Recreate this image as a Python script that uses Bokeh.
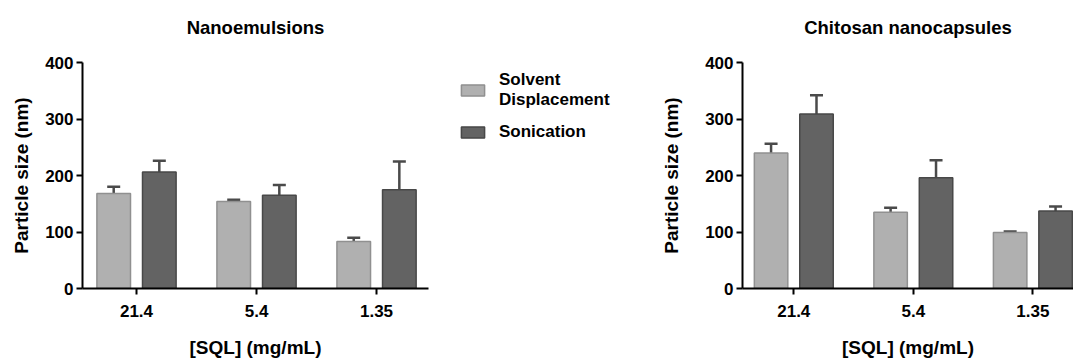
from bokeh.plotting import figure
from bokeh.layouts import row
from bokeh.models import (Range1d, FixedTicker, Whisker, TeeHead, ColumnDataSource,
                          Legend, LegendItem, Title)
from bokeh.embed import file_html
from bokeh.resources import INLINE

# SQL concentration groups (x axis)
concentrations = ["21.4", "5.4", "1.35"]

# Nanoemulsions: mean particle size and SD (nm)
ne_solvent = [168, 154, 83]
ne_solvent_sd = [12, 3, 7]
ne_sonication = [206, 165, 175]
ne_sonication_sd = [20, 18, 50]

# Chitosan nanocapsules: mean particle size and SD (nm)
cn_solvent = [240, 135, 99]
cn_solvent_sd = [16, 8, 2]
cn_sonication = [309, 196, 137]
cn_sonication_sd = [33, 31, 8]

y_ticks = [0, 100, 200, 300, 400]
series_labels = ["Solvent\nDisplacement", "Sonication"]

FONT = "Liberation Sans"
SOLVENT_FILL, SOLVENT_LINE = "#b0b0b0", "#909090"
SONIC_FILL, SONIC_LINE = "#636363", "#484848"
ERR_COLOR = "#4a4a4a"
BAR_W = 0.28
OFFSET = 0.19
TOP, BOTTOM = 62, 69


def style_axes(p, ylabel_standoff):
    p.grid.visible = False
    p.outline_line_color = None
    p.background_fill_color = None
    p.border_fill_color = None

    p.yaxis.ticker = FixedTicker(ticks=y_ticks)
    p.yaxis.axis_label = "Particle size (nm)"
    p.yaxis.axis_label_standoff = ylabel_standoff

    p.xaxis.ticker = FixedTicker(ticks=list(range(len(concentrations))))
    p.xaxis.major_label_overrides = {i: c for i, c in enumerate(concentrations)}
    p.xaxis.axis_label = "[SQL] (mg/mL)"
    p.xaxis.axis_label_standoff = 17

    for ax in (p.xaxis[0], p.yaxis[0]):
        ax.axis_line_color = "black"
        ax.axis_line_width = 2
        ax.major_tick_line_color = "black"
        ax.major_tick_line_width = 2
        ax.major_tick_out = 6
        ax.major_tick_in = 0
        ax.minor_tick_line_color = None
        ax.major_label_standoff = 3
        ax.major_label_text_font = FONT
        ax.major_label_text_font_style = "bold"
        ax.major_label_text_font_size = "17px"
        ax.major_label_text_color = "black"
        ax.axis_label_text_font = FONT
        ax.axis_label_text_font_style = "bold"
        ax.axis_label_text_font_size = "19px"
        ax.axis_label_text_color = "black"
    p.xaxis.major_label_standoff = 10


def draw_bars(p, solvent, solvent_sd, sonication, sonication_sd):
    idx = list(range(len(concentrations)))
    for vals, sds, sign, fill, line in (
        (solvent, solvent_sd, -1, SOLVENT_FILL, SOLVENT_LINE),
        (sonication, sonication_sd, 1, SONIC_FILL, SONIC_LINE),
    ):
        src = ColumnDataSource(dict(
            x=[i + sign * OFFSET for i in idx],
            top=vals,
            upper=[v + s for v, s in zip(vals, sds)],
        ))
        p.vbar(x="x", top="top", width=BAR_W, bottom=0, source=src,
               fill_color=fill, line_color=line, line_width=1.5)
        p.add_layout(Whisker(
            base="x", lower="top", upper="upper", source=src,
            line_color=ERR_COLOR, line_width=2.5,
            upper_head=TeeHead(size=13, line_color=ERR_COLOR, line_width=2.5),
            lower_head=None,
        ))


def add_title(p, text):
    # a thin spacer keeps the heading clear of the plot frame
    p.add_layout(Title(text=" ", text_font_size="1px", standoff=22), "above")
    p.add_layout(Title(text=text, align="center", text_font=FONT,
                       text_font_style="bold", text_font_size="18.5px",
                       text_color="black", standoff=0), "above")


# Left panel: nanoemulsions
left = figure(width=440, height=360, x_range=Range1d(-0.45, 2.433),
              y_range=Range1d(0, 400), output_backend="svg", toolbar_location=None,
              min_border_left=82, min_border_right=12, min_border_top=TOP,
              min_border_bottom=BOTTOM)
style_axes(left, 10)
add_title(left, "Nanoemulsions")
draw_bars(left, ne_solvent, ne_solvent_sd, ne_sonication, ne_sonication_sd)

# Middle strip: shared legend (key swatches styled like the bars, no data drawn)
mid = figure(width=210, height=360, x_range=Range1d(0, 1), y_range=Range1d(0, 1),
             output_backend="svg", toolbar_location=None,
             x_axis_location=None, y_axis_location=None,
             min_border_left=0, min_border_right=0, min_border_top=TOP,
             min_border_bottom=BOTTOM)
mid.grid.visible = False
mid.outline_line_color = None
mid.background_fill_color = None
mid.border_fill_color = None
key_src = ColumnDataSource(dict(x=[float("nan")], top=[float("nan")]))
key_solv = mid.vbar(x="x", top="top", width=0.1, source=key_src,
                    fill_color=SOLVENT_FILL, line_color=SOLVENT_LINE, line_width=1.5)
key_son = mid.vbar(x="x", top="top", width=0.1, source=key_src,
                   fill_color=SONIC_FILL, line_color=SONIC_LINE, line_width=1.5)
legend = Legend(
    items=[LegendItem(label=series_labels[0], renderers=[key_solv]),
           LegendItem(label=series_labels[1], renderers=[key_son])],
    location=(18, 146), padding=0, margin=0, spacing=12,
    glyph_width=29, glyph_height=14, label_standoff=12,
    label_text_font=FONT, label_text_font_style="bold", label_text_font_size="17px",
    label_text_line_height=1.3,
    label_text_color="black", border_line_color=None, background_fill_alpha=0,
)
mid.add_layout(legend, "center")

# Right panel: chitosan nanocapsules
right = figure(width=423, height=360, x_range=Range1d(-0.429, 2.34),
               y_range=Range1d(0, 400), output_backend="svg", toolbar_location=None,
               min_border_left=92, min_border_right=0, min_border_top=TOP,
               min_border_bottom=BOTTOM)
style_axes(right, 20)
add_title(right, "Chitosan nanocapsules")
draw_bars(right, cn_solvent, cn_solvent_sd, cn_sonication, cn_sonication_sd)

layout = row(left, mid, right, spacing=0)
open("out.html", "w").write(file_html(layout, INLINE))
